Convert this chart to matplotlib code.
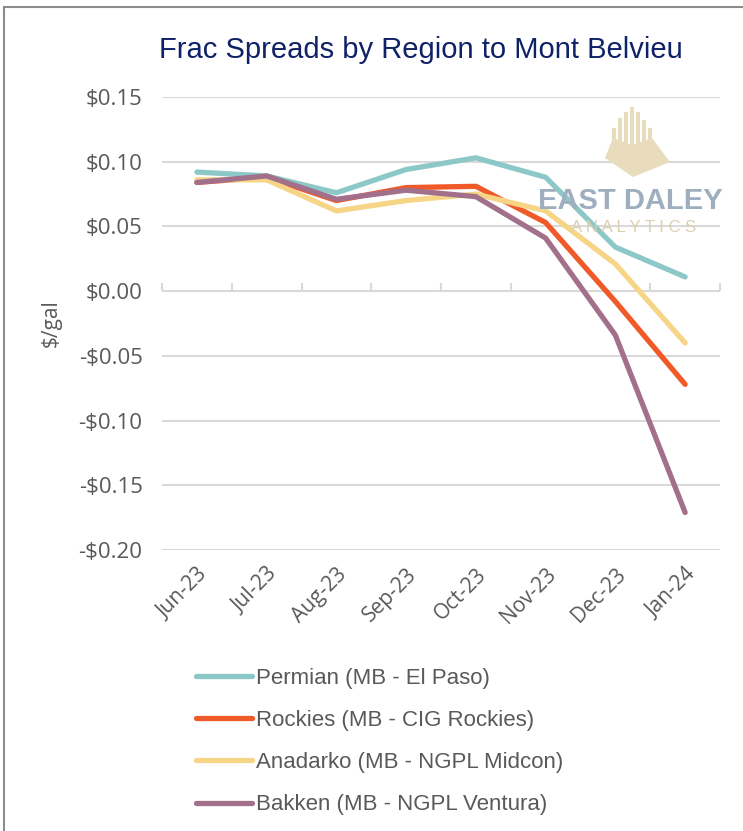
import matplotlib
matplotlib.use("Agg")
import matplotlib.pyplot as plt
from matplotlib.patches import Rectangle, Polygon
import numpy as np

months = ["Jun-23", "Jul-23", "Aug-23", "Sep-23", "Oct-23", "Nov-23", "Dec-23", "Jan-24"]
permian = [0.092, 0.089, 0.076, 0.094, 0.103, 0.088, 0.034, 0.011]
rockies = [0.084, 0.088, 0.070, 0.080, 0.081, 0.053, -0.008, -0.072]
anadarko = [0.086, 0.086, 0.062, 0.070, 0.075, 0.062, 0.021, -0.040]
bakken = [0.084, 0.089, 0.071, 0.078, 0.073, 0.041, -0.034, -0.171]
series_names = ["Permian (MB - El Paso)", "Rockies (MB - CIG Rockies)",
                "Anadarko (MB - NGPL Midcon)", "Bakken (MB - NGPL Ventura)"]
colors = ["#8DC8C8", "#F05A28", "#F6D587", "#A2708B"]
yticks = [0.15, 0.10, 0.05, 0.00, -0.05, -0.10, -0.15, -0.20]

W, H = 743, 831
fig = plt.figure(figsize=(W / 100, H / 100), dpi=100)
grey = "#595959"
gridc = "#D9D9D9"
tick_font = "Open Sans"


def fx(px):
    return px / W


def fy(py):
    return 1 - py / H


# frame around the figure
fig.patches.append(Rectangle((fx(4), -0.1), 1.2, fy(7) + 0.1, transform=fig.transFigure,
                             fill=False, edgecolor="#8C8C8C", linewidth=1.5))

ax = fig.add_axes([fx(162), fy(550), (720 - 162) / W, (550 - 97) / H])
x = np.arange(len(months))
ax.set_xlim(-0.5, len(months) - 0.5)
ax.set_ylim(-0.2, 0.15)

for v in yticks:
    ax.axhline(v, color=gridc, lw=1.5, zorder=0)

# logo watermark (decorative)
logo_c = "#E8DCBC"
fig.patches.append(Polygon([(fx(605), fy(158)), (fx(613), fy(138)), (fx(632), fy(145)),
                            (fx(652), fy(138)), (fx(670), fy(162)), (fx(633), fy(177))],
                           closed=True, transform=fig.transFigure, facecolor=logo_c,
                           edgecolor="none", zorder=1))
for xx, top in [(614, 128), (620, 118), (626, 112), (632, 107), (638, 112), (644, 120), (650, 128)]:
    fig.patches.append(Rectangle((fx(xx - 2), fy(145)), 4 / W, (145 - top) / H,
                                 transform=fig.transFigure, facecolor=logo_c,
                                 edgecolor="none", zorder=1))
fig.text(fx(630), fy(201), "EAST DALEY", ha="center", va="center", fontsize=21,
         fontweight="bold", color="#9FAEBF", family="Liberation Sans", zorder=2)
fig.text(fx(634), fy(228), "A N A L Y T I C S", ha="center", va="center", fontsize=12,
         color="#DCCFAE", family="Liberation Sans", zorder=2)

lines = []
for vals, c, name in zip([permian, rockies, anadarko, bakken], colors, series_names):
    ln, = ax.plot(x, vals, color=c, lw=3.8, label=name, solid_capstyle="round",
                  solid_joinstyle="round", zorder=3)
    lines.append(ln)

ax.set_yticks(yticks)
ax.set_yticklabels([("-$%.2f" % abs(v)) if v < 0 else ("$%.2f" % v) for v in yticks],
                   fontsize=16, color=grey, family=tick_font)
ax.tick_params(axis="y", length=0, pad=14)
ax.set_xticks(x)
ax.set_xticklabels(months, rotation=45, ha="right", rotation_mode="anchor",
                   fontsize=15, color=grey, family=tick_font)
ax.tick_params(axis="x", length=0, pad=10)
for s in ax.spines.values():
    s.set_visible(False)

# zero axis with category boundary ticks
zero_pos = (0 - (-0.2)) / (0.15 - (-0.2))
sec = ax.secondary_xaxis(zero_pos)
sec.set_xticks(np.arange(-0.5, len(months), 1.0))
sec.set_xticklabels([])
sec.tick_params(axis="x", direction="out", length=6, width=1.5, color=gridc)
for s in sec.spines.values():
    s.set_visible(False)

ax.set_ylabel("$/gal", fontsize=15, color=grey, family=tick_font, labelpad=12)

fig.text(fx(421), fy(50), "Frac Spreads by Region to Mont Belvieu", ha="center",
         va="center", fontsize=21, color="#0F2167", family="Liberation Sans")

fig.legend(handles=lines, labels=series_names, loc="upper left",
           bbox_to_anchor=(fx(196), fy(668)), bbox_transform=fig.transFigure,
           frameon=False, handlelength=2.5, handletextpad=0.2,
           labelspacing=0.95, borderpad=0, borderaxespad=0, labelcolor=grey,
           prop={"family": "Liberation Sans", "size": 16})

fig.savefig("out.png", dpi=100)
